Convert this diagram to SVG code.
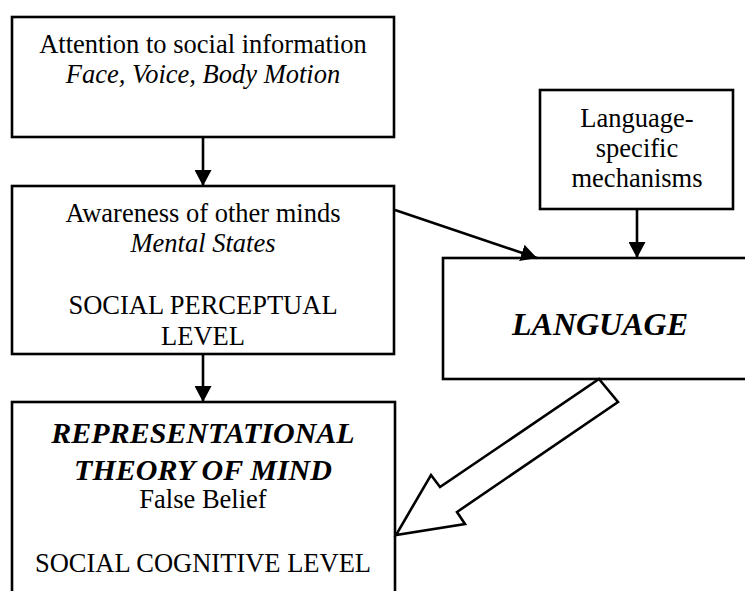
<svg xmlns="http://www.w3.org/2000/svg" width="745" height="591" viewBox="0 0 745 591">
  <style>
    .box { fill: #fff; stroke: #000; stroke-width: 2.6; }
    text { font-family: 'Liberation Serif', 'DejaVu Serif', serif; font-size: 26.5px; fill: #000; text-anchor: middle; }
    .it { font-style: italic; }
    .bi { font-style: italic; font-weight: bold; }
    .edge { stroke: #000; stroke-width: 2.6; fill: none; marker-end: url(#head); }
    .block { fill: #fff; stroke: #000; stroke-width: 2.6; stroke-linejoin: miter; }
  </style>
  <defs>
    <marker id="head" markerUnits="userSpaceOnUse" markerWidth="17" markerHeight="17" refX="16" refY="8.5" orient="auto">
      <path d="M0,0 L16,8.5 L0,17 z" fill="#000"/>
    </marker>
  </defs>
  <rect width="745" height="591" fill="#fff"/>

  <g font-family="Liberation Serif, serif">
  <g id="attention">
    <rect class="box" x="12" y="17" width="382" height="120"/>
    <text x="203" y="53">Attention to social information</text>
    <text class="it" x="203" y="83">Face, Voice, Body Motion</text>
  </g>

  <g id="awareness">
    <rect class="box" x="12" y="186" width="382" height="168"/>
    <text x="203" y="222">Awareness of other minds</text>
    <text class="it" x="203" y="252">Mental States</text>
    <text x="203" y="314">SOCIAL PERCEPTUAL</text>
    <text x="203" y="345">LEVEL</text>
  </g>

  <g id="mechanisms">
    <rect class="box" x="540" y="90" width="193" height="119"/>
    <text x="637" y="127">Language-</text>
    <text x="637" y="157">specific</text>
    <text x="637" y="187">mechanisms</text>
  </g>

  <g id="language">
    <rect class="box" x="443" y="258" width="312" height="121"/>
    <text class="bi" x="600" y="335" style="font-size:32px">LANGUAGE</text>
  </g>

  <g id="tom">
    <rect class="box" x="12" y="402" width="383" height="210"/>
    <text class="bi" x="203" y="443" style="font-size:30px">REPRESENTATIONAL</text>
    <text class="bi" x="203" y="480" style="font-size:30px">THEORY OF MIND</text>
    <text x="203" y="508">False Belief</text>
    <text x="203" y="572">SOCIAL COGNITIVE LEVEL</text>
  </g>
  </g>

  <g id="connectors">
    <line class="edge" x1="203" y1="137" x2="203" y2="186"/>
    <line class="edge" x1="203" y1="354" x2="203" y2="402"/>
    <line class="edge" x1="637" y1="209" x2="637" y2="258"/>
    <line class="edge" x1="395" y1="210" x2="537" y2="258"/>
    <polygon class="block" points="599,379 618,402 457,512 465,524 396,535 431,475 440,487"/>
  </g>
</svg>
